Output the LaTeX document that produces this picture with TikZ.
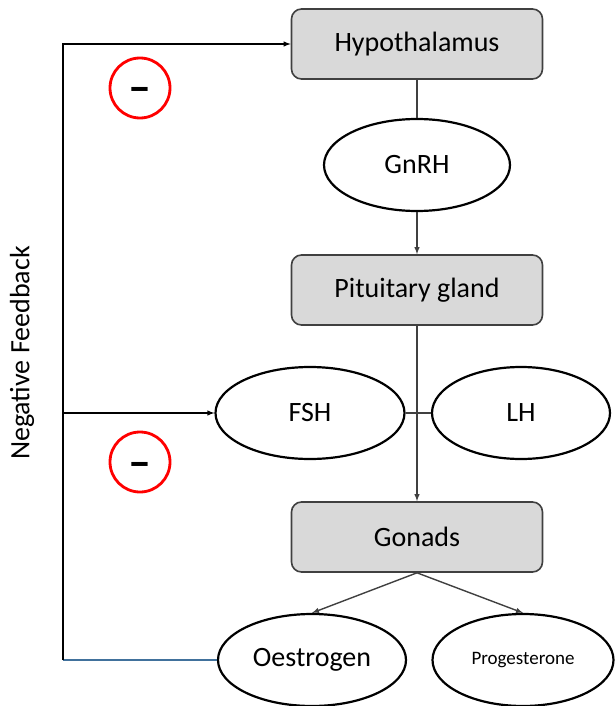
\documentclass[tikz,border=0pt]{standalone}
\usepackage{fontspec}
\setmainfont{Carlito}
\usepackage{xcolor}
\usepackage{tikz}
\usetikzlibrary{shapes.geometric}
\definecolor{boxgray}{HTML}{D9D9D9}
\definecolor{edgegray}{HTML}{404040}
\definecolor{fbblue}{HTML}{41719C}
\newcommand{\minussign}{\raisebox{-15pt}{\textendash}}
\tikzset{
  organ/.style    = {shape=rectangle, rounded corners=10pt,
                     draw=edgegray, line width=1.6pt, fill=boxgray,
                     minimum width=251pt, minimum height=70pt},
  hormone/.style  = {shape=ellipse, draw, line width=2.2pt, inner sep=0pt,
                     minimum width=186pt, minimum height=92pt},
  minus/.style    = {circle, draw=red, line width=2.8pt, inner sep=0pt,
                     text height=0pt, text depth=0pt,
                     minimum size=60pt, font=\bfseries\fontsize{46}{48}\selectfont},
  flow/.style     = {draw=edgegray, line width=1.4pt},
  feedback/.style = {draw=black, line width=1.4pt}
}

\begin{document}
\begin{tikzpicture}
  [
    x                 = 1pt,
    y                 = -1pt,
    every node/.style = {font=\fontsize{28}{32}\selectfont},
    >=latex
  ]
  \useasboundingbox (0,0) rectangle (615,706);

  % axis of the cascade
  \node [organ] (hypo) at (417,44) {Hypothalamus};
  \node [hormone] (gnrh) at (417,165) {GnRH};
  \node [organ] (pit) at (417,290) {Pituitary gland};
  \node [hormone, minimum width=189pt] (fsh) at (310,413) {FSH};
  \node [hormone, minimum width=178pt] (lh) at (521,413) {LH};
  \node [organ] (gon) at (417,537) {Gonads};
  \node [hormone, minimum width=188pt] (oes) at (312,660) {Oestrogen};
  \node [hormone, minimum width=181pt, font=\fontsize{19}{21}\selectfont]
    (prog) at (523,660) {Progesterone};

  % feedback loop
  \coordinate (fbtop) at (63,44);
  \coordinate (fbmid) at (63,413);
  \coordinate (fbbot) at (63,660);
  \node [rotate=90] (fblabel) at (22,353) {Negative Feedback};
  \node [minus] (minusA) at (140,88) {\minussign};
  \node [minus] (minusB) at (140,462) {\minussign};

  \draw [flow] (hypo) -- (gnrh);
  \draw [flow, ->] (gnrh) -- (pit);
  \draw [flow, ->] (pit) -- (gon);
  \draw [flow] (fsh) -- (lh);
  \draw [flow, ->] (gon.south) -- (oes.north);
  \draw [flow, ->] (gon.south) -- (prog.north);

  \draw [feedback, draw=fbblue] (oes.west) -- (fbbot);
  \draw [feedback, ->] (fbbot) -- (fbtop) -- (hypo.west);
  \draw [feedback, ->] (fbmid) -- (fsh.west);
\end{tikzpicture}
\end{document}
